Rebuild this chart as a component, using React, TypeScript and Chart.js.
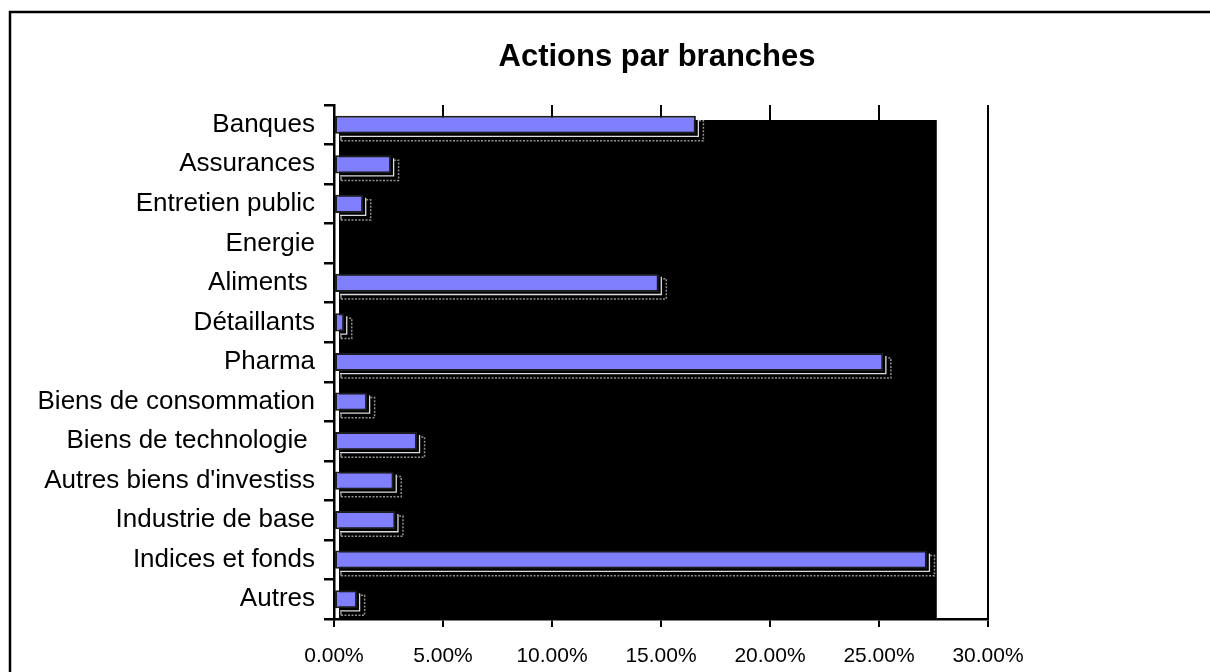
import React, { useEffect, useRef } from "react";
import { Chart, registerables } from "chart.js";

Chart.register(...registerables);

const TITLE = "Actions par branches";
const categories = [
  "Banques",
  "Assurances",
  "Entretien public",
  "Energie",
  "Aliments ",
  "Détaillants",
  "Pharma",
  "Biens de consommation",
  "Biens de technologie ",
  "Autres biens d'investiss",
  "Industrie de base",
  "Indices et fonds",
  "Autres",
];
const shares = [16.6, 2.62, 1.34, 0, 14.9, 0.47, 25.2, 1.52, 3.81, 2.74, 2.82, 27.2, 1.06];
const xTicks = [0, 5, 10, 15, 20, 25, 30];
const WALL_EXTENT = 27.65;

const FONT = "'Liberation Sans', Arial, sans-serif";

const decorPlugin = {
  id: "decor",
  beforeDatasetsDraw(chart: any) {
    const { ctx, chartArea, scales } = chart;
    const x = scales.x;
    ctx.save();
    ctx.fillStyle = "#000";
    const left = x.getPixelForValue(0) + 5;
    const right = x.getPixelForValue(WALL_EXTENT);
    ctx.fillRect(left, chartArea.top + 15, right - left, chartArea.bottom - chartArea.top - 15);
    ctx.restore();
  },
  afterDatasetsDraw(chart: any) {
    const { ctx } = chart;
    const meta = chart.getDatasetMeta(0);
    ctx.save();
    meta.data.forEach((el: any, i: number) => {
      if (!shares[i]) return;
      const p = el.getProps(["x", "y", "base", "height"], true);
      const top = p.y - p.height / 2;
      const bot = p.y + p.height / 2;
      ctx.strokeStyle = "#dcdcdc";
      ctx.lineWidth = 1.3;
      ctx.setLineDash([]);
      ctx.beginPath();
      ctx.moveTo(p.base + 5, bot + 2.5);
      ctx.lineTo(p.x + 2.5, bot + 2.5);
      ctx.lineTo(p.x + 2.5, top + 3);
      ctx.stroke();
      ctx.strokeStyle = "#909090";
      ctx.lineWidth = 1.5;
      ctx.setLineDash([2, 1.5]);
      ctx.beginPath();
      ctx.moveTo(p.base + 6, bot + 7);
      ctx.lineTo(p.x + 7.5, bot + 7);
      ctx.lineTo(p.x + 7.5, top + 5);
      ctx.lineTo(p.x + 3, top + 5);
      ctx.stroke();
      ctx.setLineDash([]);
      ctx.beginPath();
      ctx.moveTo(p.base + 6, bot + 7);
      ctx.lineTo(p.base + 6, bot + 3);
      ctx.stroke();
    });
    ctx.restore();
  },
  afterDraw(chart: any) {
    const { ctx } = chart;
    ctx.save();
    ctx.strokeStyle = "#000";
    ctx.lineWidth = 2.5;
    ctx.strokeRect(10, 12, 1400, 900);
    ctx.fillStyle = "#000";
    ctx.font = `bold 31px ${FONT}`;
    ctx.textAlign = "center";
    ctx.textBaseline = "alphabetic";
    ctx.fillText(TITLE, 657, 66);
    ctx.restore();
  },
};

export default function App() {
  const ref = useRef<HTMLCanvasElement | null>(null);
  useEffect(() => {
    document.body.style.margin = "0";
    const canvas = ref.current!;
    const chart = new Chart(canvas, {
      type: "bar",
      data: {
        labels: categories,
        datasets: [
          {
            data: shares,
            backgroundColor: "#8080FF",
            borderColor: "#1c1c1c",
            borderWidth: 2,
            borderSkipped: false,
            categoryPercentage: 1,
            barPercentage: 0.46,
          },
        ],
      },
      options: {
        indexAxis: "y",
        animation: false,
        responsive: false,
        devicePixelRatio: 1,
        layout: { padding: { left: 0, top: 105, right: 222, bottom: 0 } },
        plugins: { legend: { display: false }, title: { display: false }, tooltip: { enabled: false } },
        scales: {
          x: {
            type: "linear",
            min: 0,
            max: 30,
            afterFit(scale: any) {
              scale.height = 53;
            },
            afterBuildTicks(scale: any) {
              scale.ticks = xTicks.map((v) => ({ value: v }));
            },
            ticks: {
              color: "#000",
              font: { family: FONT, size: 21 },
              padding: 17,
              callback: (v: any) => Number(v).toFixed(2) + "%",
            },
            grid: { color: "#000", lineWidth: 2, tickLength: 8, drawOnChartArea: true },
            border: { color: "#000", width: 2.5 },
          },
          y: {
            afterFit(scale: any) {
              scale.width = 334;
            },
            ticks: {
              color: "#000",
              font: { family: FONT, size: 26 },
              padding: 9,
            },
            grid: { color: "#000", lineWidth: 2.5, tickLength: 10, drawOnChartArea: false, offset: true },
            border: { color: "#000", width: 2.5 },
          },
        },
      },
      plugins: [decorPlugin],
    } as any);
    return () => chart.destroy();
  }, []);
  return (
    <div style={{ position: "fixed", left: 0, top: 0, width: 1210, height: 672, background: "#fff" }}>
      <canvas ref={ref} width={1210} height={672} style={{ width: 1210, height: 672, display: "block" }} />
    </div>
  );
}
